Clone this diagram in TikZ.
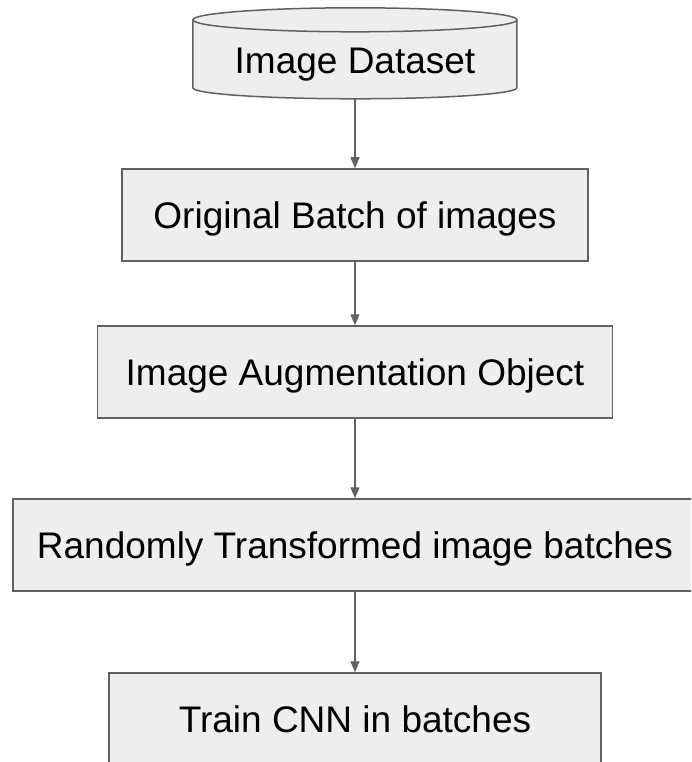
\documentclass[tikz,border=0pt]{standalone}
\usepackage{fontspec}
\setmainfont{Liberation Sans}
\usetikzlibrary{arrows.meta,backgrounds}
\definecolor{boxfill}{HTML}{EEEEEE}
\definecolor{boxline}{HTML}{616161}
\begin{document}
\begin{tikzpicture}[x=1pt, y=-1pt, >={Triangle[length=11pt,width=9pt]},
    label/.style={inner sep=0pt, text height=26.5pt, text depth=0pt, font=\fontsize{37}{44}\selectfont},
    box/.style={label, draw=boxline, fill=boxfill, line width=1.5pt, minimum height=92pt},
    flow/.style={->, draw=boxline, line width=1.3pt}]
    \useasboundingbox (0,0) rectangle (691,762);
    \clip (0,0) rectangle (691,762);

    \node[label, minimum width=324pt, minimum height=78pt] (data) at (355,60) {Image Dataset};
    \begin{scope}[on background layer]
      \draw[boxline, fill=boxfill, line width=1.5pt] (data.north west) ++(0,-1) -- ++(0,68)
        arc[start angle=180, end angle=360, x radius=162pt, y radius=11pt] -- ++(0,-68);
      \draw[boxline, fill=boxfill, line width=1.5pt] (data.north) ++(0,-1) ellipse [x radius=162pt, y radius=12pt];
    \end{scope}

    \node[box, minimum width=466pt] (orig) at (355,215) {Original Batch of images};
    \node[box, minimum width=515pt] (aug) at (355,372) {Image Augmentation Object};
    \node[box, minimum width=684pt] (rand) at (355,545) {Randomly Transformed image batches};
    \node[box, minimum width=492pt] (train) at (355,719) {Train CNN in batches};

    \draw[flow] (data) -- (orig);
    \draw[flow] (orig) -- (aug);
    \draw[flow] (aug) -- (rand);
    \draw[flow] (rand) -- (train);
\end{tikzpicture}
\end{document}
